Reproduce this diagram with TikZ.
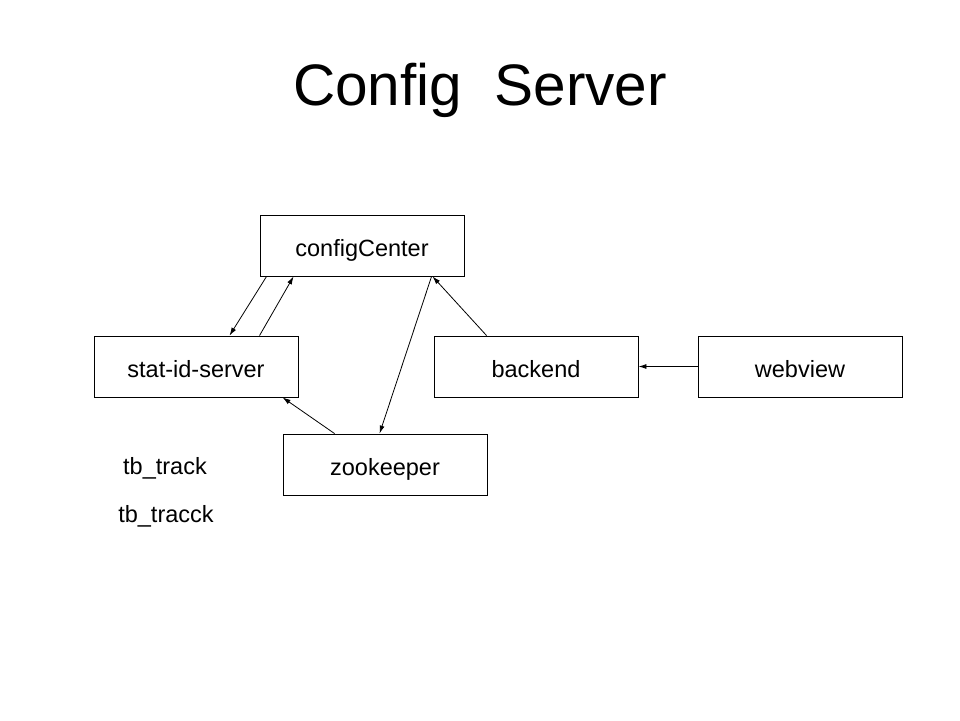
\documentclass[tikz,border=0pt]{standalone}
\usepackage{fontspec}
\setmainfont{Liberation Sans}
\usetikzlibrary{arrows.meta}
\tikzset{
    server/.style={draw, line width=0.9pt, minimum width=204pt, minimum height=61pt,
                   inner sep=0pt, text height=21pt, text depth=0pt,
                   font=\fontsize{23.5}{27}\selectfont},
    link/.style={line width=0.8pt, -{Latex[length=8pt, width=5pt]}},
    table/.style={font=\fontsize{23.5}{27}\selectfont, inner sep=0pt,
                  text height=21pt, text depth=0pt}
}
\begin{document}
\begin{tikzpicture}[x=1pt, y=-1pt]
    \useasboundingbox[fill=white] (0, 0) rectangle (960, 720);
    \node[font=\fontsize{58.5}{70}\selectfont] (title) at (480, 90) {Config~~Server};

    \node[server] (cfg) at (362, 245.5) {configCenter};
    \node[server] (sid) at (196, 366.5) {stat-id-server};
    \node[server] (be)  at (536, 366.5) {backend};
    \node[server] (wv)  at (800, 366.5) {webview};
    \node[server] (zk)  at (385, 464.5) {zookeeper};

    \draw[link] ([xshift=7pt]cfg.south west) -- ([xshift=136pt]sid.north west);
    \draw[link] ([xshift=166pt]sid.north west) -- ([xshift=34pt]cfg.south west);
    \draw[link] ([xshift=172pt]cfg.south west) -- ([xshift=97pt]zk.north west);
    \draw[link] ([xshift=53pt]be.north west) -- ([xshift=173pt]cfg.south west);
    \draw[link] (wv.west) -- (be.east);
    \draw[link] ([xshift=52pt]zk.north west) -- ([xshift=189pt]sid.south west);

    \node[table] (track)  at (165, 464) {tb\_track};
    \node[table] (tracck) at (166, 512) {tb\_tracck};
\end{tikzpicture}
\end{document}
